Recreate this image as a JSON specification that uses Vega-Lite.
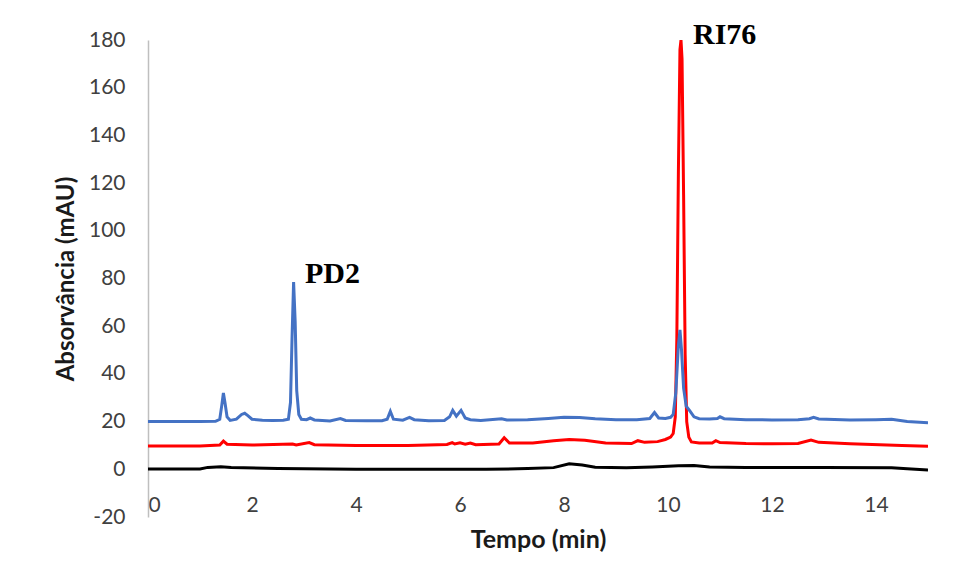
{
  "$schema": "https://vega.github.io/schema/vega-lite/v6.json",
  "width": 780,
  "height": 477,
  "autosize": {"type": "none"},
  "padding": {"left": 148, "top": 40, "right": 29, "bottom": 60},
  "background": "white",
  "config": {"view": {"stroke": null}, "font": "Lato"},
  "datasets": {
    "black": [
      {"t": 0, "v": 0.1}, {"t": 1.0, "v": 0.1}, {"t": 1.15, "v": 0.8}, {"t": 1.4, "v": 1.1}, {"t": 1.6, "v": 0.8},
      {"t": 2.5, "v": 0.3}, {"t": 4.0, "v": 0.0}, {"t": 6.5, "v": 0.0}, {"t": 7.3, "v": 0.3}, {"t": 7.8, "v": 0.7},
      {"t": 8.1, "v": 2.3}, {"t": 8.35, "v": 1.8}, {"t": 8.6, "v": 0.9}, {"t": 9.2, "v": 0.7}, {"t": 9.7, "v": 1.0},
      {"t": 10.2, "v": 1.5}, {"t": 10.5, "v": 1.6}, {"t": 10.8, "v": 1.0}, {"t": 11.5, "v": 0.8}, {"t": 13, "v": 0.8},
      {"t": 14.3, "v": 0.7}, {"t": 14.6, "v": 0.2}, {"t": 15, "v": -0.3}
    ],
    "red": [
      {"t": 0, "v": 9.8}, {"t": 1.0, "v": 9.8}, {"t": 1.38, "v": 10.2}, {"t": 1.45, "v": 11.8}, {"t": 1.52, "v": 10.5},
      {"t": 2.0, "v": 10.2}, {"t": 2.78, "v": 10.6}, {"t": 2.85, "v": 10.2}, {"t": 3.1, "v": 11.2}, {"t": 3.2, "v": 10.3},
      {"t": 4.0, "v": 10.0}, {"t": 5.0, "v": 10.0}, {"t": 5.75, "v": 10.4}, {"t": 5.85, "v": 11.2}, {"t": 5.9, "v": 10.6},
      {"t": 6.0, "v": 11.1}, {"t": 6.1, "v": 10.5}, {"t": 6.2, "v": 11}, {"t": 6.3, "v": 10.3}, {"t": 6.75, "v": 10.6},
      {"t": 6.85, "v": 13.2}, {"t": 6.95, "v": 11}, {"t": 7.4, "v": 11}, {"t": 7.8, "v": 12}, {"t": 8.1, "v": 12.5},
      {"t": 8.4, "v": 12.2}, {"t": 8.8, "v": 11}, {"t": 9.3, "v": 10.8}, {"t": 9.42, "v": 12}, {"t": 9.55, "v": 11.3},
      {"t": 9.8, "v": 11.6}, {"t": 9.95, "v": 12.5}, {"t": 10.05, "v": 13.5}, {"t": 10.1, "v": 15}, {"t": 10.14, "v": 22},
      {"t": 10.17, "v": 55}, {"t": 10.2, "v": 125}, {"t": 10.23, "v": 176}, {"t": 10.25, "v": 180}, {"t": 10.27, "v": 172},
      {"t": 10.3, "v": 115}, {"t": 10.33, "v": 48}, {"t": 10.36, "v": 20}, {"t": 10.4, "v": 13.5}, {"t": 10.45, "v": 11.5},
      {"t": 10.6, "v": 11}, {"t": 10.85, "v": 11}, {"t": 10.92, "v": 12}, {"t": 11.0, "v": 11.2}, {"t": 11.5, "v": 10.8},
      {"t": 12.0, "v": 10.7}, {"t": 12.5, "v": 10.8}, {"t": 12.75, "v": 12.3}, {"t": 12.9, "v": 11.3}, {"t": 13.5, "v": 10.7},
      {"t": 14.5, "v": 10}, {"t": 15, "v": 9.7}
    ],
    "blue": [
      {"t": 0, "v": 20.0}, {"t": 0.5, "v": 20.0}, {"t": 1.0, "v": 20.0}, {"t": 1.3, "v": 20.1}, {"t": 1.38, "v": 21},
      {"t": 1.42, "v": 27}, {"t": 1.45, "v": 32}, {"t": 1.48, "v": 28}, {"t": 1.52, "v": 22}, {"t": 1.58, "v": 20.5},
      {"t": 1.7, "v": 21}, {"t": 1.8, "v": 23}, {"t": 1.86, "v": 23.5}, {"t": 1.92, "v": 22.5}, {"t": 2.0, "v": 21},
      {"t": 2.2, "v": 20.6}, {"t": 2.4, "v": 20.5}, {"t": 2.6, "v": 20.6}, {"t": 2.7, "v": 21}, {"t": 2.74, "v": 28},
      {"t": 2.77, "v": 55}, {"t": 2.8, "v": 78.5}, {"t": 2.83, "v": 62}, {"t": 2.86, "v": 33}, {"t": 2.9, "v": 23},
      {"t": 2.95, "v": 21}, {"t": 3.05, "v": 20.8}, {"t": 3.12, "v": 21.5}, {"t": 3.2, "v": 20.7}, {"t": 3.5, "v": 20.3},
      {"t": 3.7, "v": 21.3}, {"t": 3.8, "v": 20.5}, {"t": 4.2, "v": 20.4}, {"t": 4.5, "v": 20.4}, {"t": 4.6, "v": 21},
      {"t": 4.66, "v": 24.3}, {"t": 4.72, "v": 21}, {"t": 4.9, "v": 20.6}, {"t": 5.03, "v": 21.8}, {"t": 5.12, "v": 20.8},
      {"t": 5.4, "v": 20.4}, {"t": 5.7, "v": 20.5}, {"t": 5.8, "v": 22}, {"t": 5.86, "v": 24.7}, {"t": 5.93, "v": 22.3},
      {"t": 6.02, "v": 24.7}, {"t": 6.1, "v": 21.5}, {"t": 6.2, "v": 20.8}, {"t": 6.4, "v": 20.5}, {"t": 6.8, "v": 21.2},
      {"t": 6.9, "v": 20.7}, {"t": 7.3, "v": 20.8}, {"t": 7.7, "v": 21.3}, {"t": 8.0, "v": 21.8}, {"t": 8.3, "v": 21.7},
      {"t": 8.6, "v": 21.2}, {"t": 9.0, "v": 20.8}, {"t": 9.4, "v": 20.8}, {"t": 9.65, "v": 21.3}, {"t": 9.74, "v": 23.8},
      {"t": 9.82, "v": 21.5}, {"t": 9.95, "v": 21.3}, {"t": 10.05, "v": 21.8}, {"t": 10.1, "v": 23}, {"t": 10.15, "v": 32},
      {"t": 10.2, "v": 52}, {"t": 10.23, "v": 58.5}, {"t": 10.26, "v": 50}, {"t": 10.3, "v": 34}, {"t": 10.35, "v": 26.5},
      {"t": 10.42, "v": 24.5}, {"t": 10.5, "v": 22}, {"t": 10.6, "v": 21.2}, {"t": 10.8, "v": 21.1}, {"t": 10.95, "v": 21.3},
      {"t": 11.0, "v": 22}, {"t": 11.08, "v": 21.2}, {"t": 11.5, "v": 20.8}, {"t": 12.0, "v": 20.7}, {"t": 12.5, "v": 20.8},
      {"t": 12.72, "v": 21.2}, {"t": 12.8, "v": 21.8}, {"t": 12.9, "v": 21.1}, {"t": 13.5, "v": 20.7}, {"t": 14.0, "v": 20.8},
      {"t": 14.3, "v": 21}, {"t": 14.6, "v": 20}, {"t": 15.0, "v": 19.5}
    ],
    "labels": [
      {"t": 3.02, "v": 78, "label": "PD2"},
      {"t": 10.48, "v": 178.5, "label": "RI76"}
    ]
  },
  "encoding": {
    "x": {
      "field": "t", "type": "quantitative",
      "scale": {"domain": [0, 15], "nice": false, "zero": false},
      "axis": {
        "title": "Tempo (min)", "values": [0, 2, 4, 6, 8, 10, 12, 14], "labelExpr": "'' + datum.value",
        "domain": false, "ticks": false, "tickSize": 0, "grid": false,
        "labelPadding": -23, "labelFontSize": 21, "labelColor": "#404040", "labelFont": "Lato",
        "titleFontSize": 25, "titleFontWeight": "bold", "titleColor": "#1a1a1a", "titleFont": "Lato",
        "titlePadding": 10
      }
    },
    "y": {
      "field": "v", "type": "quantitative",
      "scale": {"domain": [-20, 180], "nice": false, "zero": false},
      "axis": {
        "title": "Absorvância (mAU)", "values": [-20, 0, 20, 40, 60, 80, 100, 120, 140, 160, 180], "labelExpr": "'' + datum.value",
        "domain": true, "domainColor": "#bfbfbf", "domainWidth": 1.5, "ticks": false, "tickSize": 0, "grid": false,
        "labelPadding": 23, "labelFontSize": 21, "labelColor": "#404040", "labelFont": "Lato",
        "titleFontSize": 24, "titleFontWeight": "bold", "titleColor": "#1a1a1a", "titleFont": "Lato",
        "titlePadding": 10
      }
    }
  },
  "layer": [
    {"data": {"name": "black"}, "mark": {"type": "line", "color": "#000000", "strokeWidth": 3, "clip": true}},
    {"data": {"name": "red"}, "mark": {"type": "line", "color": "#ff0000", "strokeWidth": 3, "clip": true}},
    {"data": {"name": "blue"}, "mark": {"type": "line", "color": "#4472c4", "strokeWidth": 3, "clip": true}},
    {
      "data": {"name": "labels"},
      "mark": {"type": "text", "align": "left", "baseline": "alphabetic", "font": "Liberation Serif", "fontWeight": "bold", "fontSize": 30, "color": "#000000"},
      "encoding": {"text": {"field": "label"}}
    }
  ]
}
